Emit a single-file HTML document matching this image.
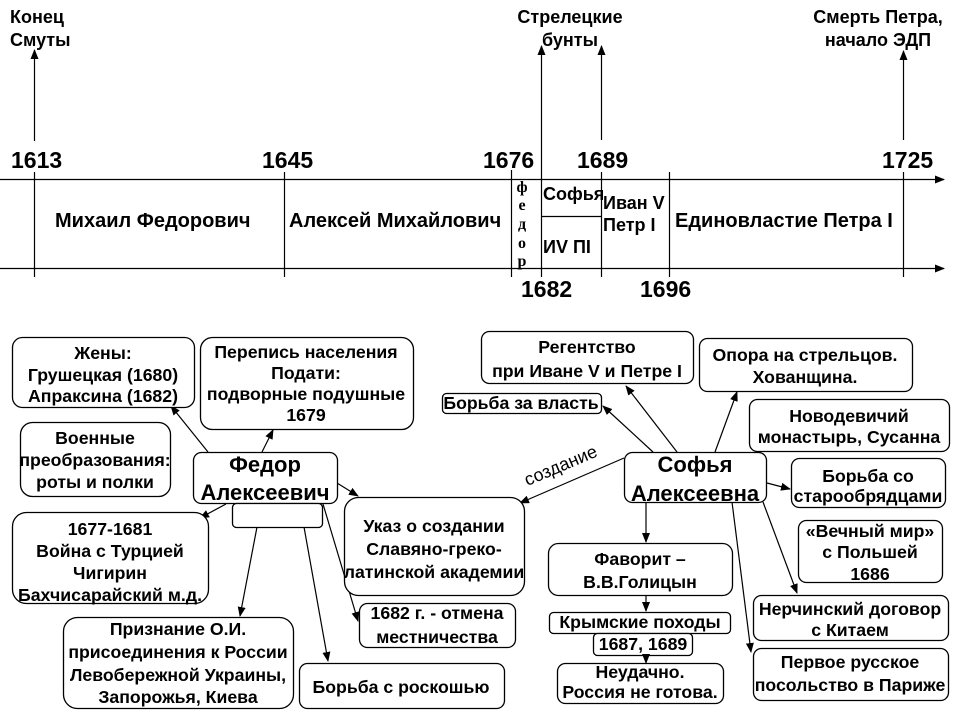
<!DOCTYPE html>
<html><head><meta charset="utf-8"><style>
html,body{margin:0;padding:0;background:#fff;}
svg{display:block;}
text{font-family:"Liberation Sans",Arial,sans-serif;font-weight:bold;fill:#000;}
.b text{font-size:17.7px;text-anchor:middle;}
.b text.big{font-size:22px;}
.ser{font-family:"Liberation Serif","Times New Roman",serif;font-size:16px;text-anchor:middle;}
.yr{font-size:23px;}
.nm{font-size:20px;}
.tl{font-size:18px;}
line,path.l{stroke:#000;stroke-width:1.2;fill:none;}
rect{fill:#fff;stroke:#000;stroke-width:1.3;}
</style></head><body>
<svg width="960" height="720" viewBox="0 0 960 720" xmlns="http://www.w3.org/2000/svg">
<defs>
<marker id="a" markerWidth="10" markerHeight="8" refX="9" refY="4" orient="auto" markerUnits="userSpaceOnUse">
<path d="M0,0 L10,4 L0,8 z" fill="#000"/>
</marker>
</defs>

<!-- Timeline horizontal axes -->
<line x1="0" y1="179.5" x2="944" y2="179.5" marker-end="url(#a)"/>
<line x1="0" y1="268.5" x2="944" y2="268.5" marker-end="url(#a)"/>

<!-- Timeline verticals -->
<line x1="34.5" y1="141" x2="34.5" y2="50" marker-end="url(#a)"/>
<line x1="34.5" y1="172" x2="34.5" y2="277"/>
<line x1="284.5" y1="172" x2="284.5" y2="277"/>
<line x1="511.5" y1="170" x2="511.5" y2="277"/>
<line x1="541.5" y1="277" x2="541.5" y2="46" marker-end="url(#a)"/>
<line x1="601.5" y1="140" x2="601.5" y2="46" marker-end="url(#a)"/>
<line x1="601.5" y1="172" x2="601.5" y2="277"/>
<line x1="669.5" y1="172" x2="669.5" y2="277"/>
<line x1="903.5" y1="140" x2="903.5" y2="51" marker-end="url(#a)"/>
<line x1="903.5" y1="172" x2="903.5" y2="277"/>
<line x1="541" y1="216.5" x2="601" y2="216.5"/>

<!-- Top labels -->
<text class="tl" x="10" y="23">Конец</text>
<text class="tl" x="10" y="46">Смуты</text>
<text class="tl" x="570" y="23" text-anchor="middle">Стрелецкие</text>
<text class="tl" x="570" y="46" text-anchor="middle">бунты</text>
<text class="tl" x="878" y="23" text-anchor="middle">Смерть Петра,</text>
<text class="tl" x="878" y="46" text-anchor="middle">начало ЭДП</text>

<!-- Years -->
<text class="yr" x="11" y="168">1613</text>
<text class="yr" x="262" y="168">1645</text>
<text class="yr" x="483" y="168">1676</text>
<text class="yr" x="577" y="168">1689</text>
<text class="yr" x="882" y="168">1725</text>
<text class="yr" x="521" y="297">1682</text>
<text class="yr" x="640" y="297">1696</text>

<!-- Reign names -->
<text class="nm" x="55" y="227">Михаил Федорович</text>
<text class="nm" x="289" y="227">Алексей Михайлович</text>
<text class="nm" x="675" y="227">Единовластие Петра I</text>
<text class="tl" x="543" y="200">Софья</text>
<text class="tl" x="543" y="253">ИV ПI</text>
<text class="tl" x="603" y="209">Иван V</text>
<text class="tl" x="603" y="231">Петр I</text>
<text class="ser" x="522" y="192">ф</text>
<text class="ser" x="522" y="210">е</text>
<text class="ser" x="522" y="229">д</text>
<text class="ser" x="522" y="248">о</text>
<text class="ser" x="522" y="266">р</text>

<!-- Connectors left -->
<line x1="208" y1="452" x2="171" y2="406" marker-end="url(#a)"/>
<line x1="262" y1="452" x2="273" y2="430" marker-end="url(#a)"/>
<line x1="337" y1="483" x2="358" y2="496" marker-end="url(#a)"/>
<line x1="226" y1="504" x2="200" y2="518" marker-end="url(#a)"/>
<line x1="257" y1="527" x2="240" y2="616" marker-end="url(#a)"/>
<line x1="304" y1="527" x2="328" y2="661" marker-end="url(#a)"/>
<line x1="323" y1="504" x2="358" y2="621" marker-end="url(#a)"/>

<!-- Connectors right -->
<line x1="653" y1="452" x2="603" y2="406" marker-end="url(#a)"/>
<line x1="677" y1="452" x2="626" y2="386" marker-end="url(#a)"/>
<line x1="715" y1="452" x2="737" y2="392" marker-end="url(#a)"/>
<line x1="767" y1="483" x2="790" y2="489" marker-end="url(#a)"/>
<line x1="624" y1="458" x2="520" y2="503" marker-end="url(#a)"/>
<line x1="646" y1="502" x2="646" y2="542" marker-end="url(#a)"/>
<line x1="732" y1="502" x2="751" y2="652" marker-end="url(#a)"/>
<line x1="763" y1="502" x2="797" y2="593" marker-end="url(#a)"/>
<line x1="646" y1="595" x2="646" y2="611" marker-end="url(#a)"/>

<text x="0" y="0" font-size="18" style="font-weight:normal" transform="translate(563,471) rotate(-23)" text-anchor="middle">создание</text>

<!-- Left boxes -->
<g class="b">
<rect x="12.5" y="337.5" width="182" height="70" rx="10"/>
<text x="103" y="359">Жены:</text>
<text x="103" y="381">Грушецкая (1680)</text>
<text x="103" y="402">Апраксина (1682)</text>

<rect x="200.5" y="337.5" width="213" height="92" rx="12"/>
<text x="306" y="358">Перепись населения</text>
<text x="306" y="379">Подати:</text>
<text x="306" y="400">подворные подушные</text>
<text x="306" y="421">1679</text>

<rect x="20.5" y="422.5" width="150" height="74" rx="12"/>
<text x="95" y="444">Военные</text>
<text x="95" y="466">преобразования:</text>
<text x="95" y="488">роты и полки</text>

<rect x="193.5" y="452.5" width="144" height="51" rx="8"/>
<text class="big" x="265" y="472">Федор</text>
<text class="big" x="265" y="500">Алексеевич</text>
<rect x="232.5" y="503.5" width="90" height="24" rx="4"/>

<rect x="12.5" y="512.5" width="196" height="91" rx="14"/>
<text x="110" y="535">1677-1681</text>
<text x="110" y="557">Война с Турцией</text>
<text x="110" y="579">Чигирин</text>
<text x="110" y="601">Бахчисарайский м.д.</text>

<rect x="344.5" y="497.5" width="180" height="98" rx="14"/>
<text x="434" y="532">Указ о создании</text>
<text x="434" y="555">Славяно-греко-</text>
<text x="434" y="578">латинской академии</text>

<rect x="359.5" y="603.5" width="156" height="44" rx="8"/>
<text x="437" y="619">1682 г. - отмена</text>
<text x="437" y="643">местничества</text>

<rect x="63.5" y="617.5" width="230" height="91" rx="14"/>
<text x="178" y="635">Признание О.И.</text>
<text x="178" y="658">присоединения к России</text>
<text x="178" y="681">Левобережной Украины,</text>
<text x="178" y="703">Запорожья, Киева</text>

<rect x="299.5" y="663.5" width="205" height="45" rx="8"/>
<text x="401" y="693">Борьба с роскошью</text>
</g>

<!-- Right boxes -->
<g class="b">
<rect x="481.5" y="331.5" width="212" height="52" rx="8"/>
<text x="587" y="353">Регентство</text>
<text x="587" y="377">при Иване V и Петре I</text>

<rect x="442.5" y="393.5" width="159" height="20" rx="4"/>
<text x="521" y="409">Борьба за власть</text>

<rect x="699.5" y="338.5" width="213" height="53" rx="8"/>
<text x="805" y="361">Опора на стрельцов.</text>
<text x="805" y="383">Хованщина.</text>

<rect x="749.5" y="399.5" width="200" height="52" rx="8"/>
<text x="849" y="422">Новодевичий</text>
<text x="849" y="443">монастырь, Сусанна</text>

<rect x="624.5" y="452.5" width="142" height="50" rx="8"/>
<text class="big" x="695" y="472">Софья</text>
<text class="big" x="695" y="501">Алексеевна</text>

<rect x="791.5" y="458.5" width="154" height="49" rx="8"/>
<text x="868" y="482">Борьба со</text>
<text x="868" y="502">старообрядцами</text>

<rect x="798.5" y="520.5" width="144" height="62" rx="8"/>
<text x="870" y="537">«Вечный мир»</text>
<text x="870" y="558">с Польшей</text>
<text x="870" y="580">1686</text>

<rect x="548.5" y="543.5" width="184" height="52" rx="10"/>
<text x="640" y="565">Фаворит –</text>
<text x="640" y="588">В.В.Голицын</text>

<rect x="549.5" y="612.5" width="181" height="21" rx="4"/>
<text x="640" y="628">Крымские походы</text>

<rect x="593.5" y="633.5" width="99" height="22" rx="4"/>
<text x="643" y="650">1687, 1689</text>

<rect x="557.5" y="663.5" width="166" height="40" rx="8"/>
<text x="640" y="678">Неудачно.</text>
<text x="640" y="698">Россия не готова.</text>

<rect x="753.5" y="595.5" width="195" height="45" rx="8"/>
<text x="850" y="615">Нерчинский договор</text>
<text x="850" y="636">с Китаем</text>

<rect x="753.5" y="648.5" width="195" height="52" rx="8"/>
<text x="850" y="668">Первое русское</text>
<text x="850" y="691">посольство в Париже</text>
</g>
<line x1="646" y1="655" x2="646" y2="663" marker-end="url(#a)"/>
</svg>
</body></html>
